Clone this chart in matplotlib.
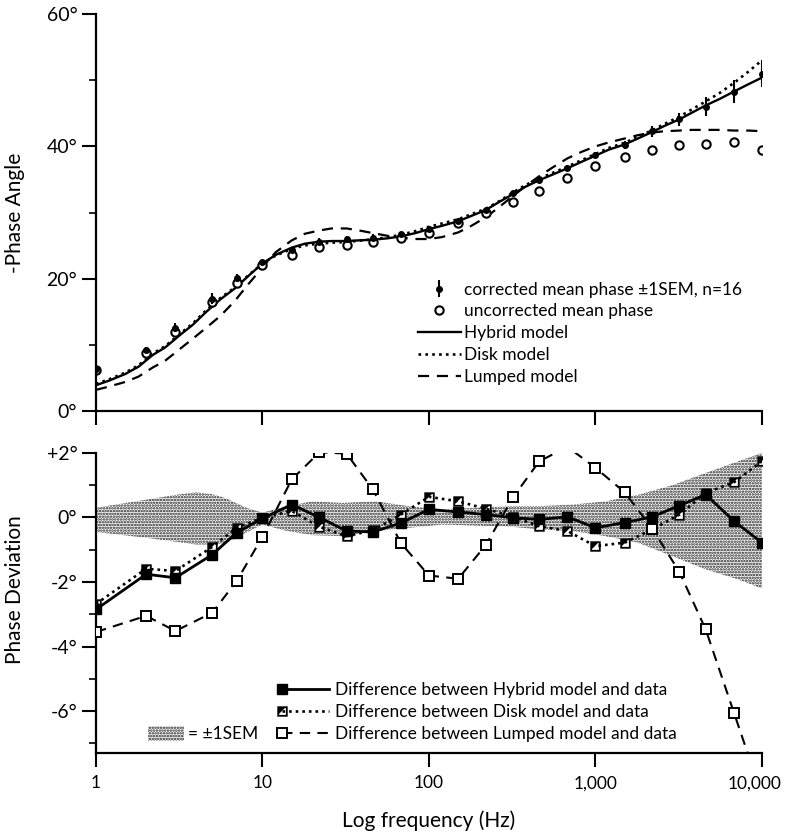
import numpy as np
import matplotlib.pyplot as plt
from matplotlib.lines import Line2D
from matplotlib.patches import Patch
from matplotlib.path import Path
from matplotlib.legend_handler import HandlerLine2D
from matplotlib.ticker import NullLocator, FixedLocator
from matplotlib.transforms import ScaledTranslation

plt.rcParams['font.family'] = ['Lato', 'DejaVu Sans']
plt.rcParams['hatch.linewidth'] = 1.2

# measured frequencies (Hz)
freq = [1, 2, 3, 5, 7, 10, 15, 22, 32, 46, 68, 100, 150, 220, 320, 460, 680,
        1000, 1500, 2200, 3200, 4600, 6800, 10000]
corrected = [6.3, 9.2, 12.6, 17.0, 20.1, 22.6, 24.4, 25.6, 26.0, 26.2, 26.7, 27.5,
             28.8, 30.4, 32.9, 34.9, 36.7, 38.7, 40.2, 42.3, 44.1, 46.0, 48.3, 51.0]
sem = [0.3, 0.5, 0.7, 0.8, 0.6, 0.2, 0.4, 0.5, 0.5, 0.5, 0.35, 0.25, 0.3, 0.3,
       0.35, 0.4, 0.45, 0.5, 0.6, 0.8, 1.0, 1.4, 1.8, 2.0]
uncorrected = [6.2, 8.7, 12.0, 16.5, 19.3, 22.0, 23.6, 24.8, 25.1, 25.5, 26.1, 26.9,
               28.4, 29.9, 31.6, 33.3, 35.2, 37.0, 38.4, 39.5, 40.2, 40.3, 40.7, 39.4]

# model curves
model_freq = [1, 1.2, 1.5, 1.8, 2.2, 2.6, 3.2, 3.8, 4.6, 5.6, 6.8, 8.3, 10, 12, 15,
              18, 22, 26, 32, 38, 46, 56, 68, 83, 100, 120, 150, 180, 220, 260,
              320, 380, 460, 560, 680, 830, 1000, 1200, 1500, 1800, 2200, 2600,
              3200, 3800, 4600, 5600, 6800, 8300, 10000]
hybrid = [3.9, 4.6, 5.6, 6.7, 8.5, 9.6, 11.5, 13.0, 15.0, 16.9, 18.5, 20.5, 22.3,
          23.6, 24.7, 25.3, 25.6, 25.7, 25.7, 25.8, 25.9, 26.1, 26.4, 26.9, 27.5,
          28.0, 28.7, 29.5, 30.4, 31.5, 32.8, 33.9, 34.9, 35.8, 36.7, 37.7, 38.6,
          39.5, 40.3, 41.2, 42.2, 43.1, 44.1, 45.1, 46.2, 47.2, 48.3, 49.4, 50.4]
disk = [4.1, 4.8, 5.8, 6.9, 8.7, 9.8, 11.7, 13.2, 15.25, 17.1, 18.65, 20.6, 22.3,
        23.5, 24.5, 25.05, 25.3, 25.45, 25.55, 25.75, 25.95, 26.25, 26.65, 27.2,
        27.85, 28.35, 29.0, 29.75, 30.6, 31.6, 33.05, 34.15, 35.15, 36.05, 36.95,
        37.95, 38.85, 39.75, 40.55, 41.45, 42.45, 43.4, 44.5, 45.6, 46.8, 48.1,
        49.6, 51.3, 53.0]
lumped = [3.2, 3.7, 4.4, 5.2, 6.6, 7.6, 9.4, 10.9, 12.6, 14.4, 16.6, 19.3, 21.7,
          24.0, 25.8, 26.8, 27.3, 27.6, 27.6, 27.3, 26.9, 26.5, 26.2, 26.0, 26.0,
          26.3, 27.0, 28.0, 29.3, 30.7, 32.5, 34.0, 35.5, 36.9, 38.2, 39.2, 40.0,
          40.6, 41.2, 41.7, 42.1, 42.3, 42.4, 42.5, 42.5, 42.5, 42.4, 42.4, 42.3]

# model minus data
hybrid_diff = [-2.85, -1.76, -1.87, -1.15, -0.47, -0.03, 0.40, 0.0, -0.42, -0.45,
               -0.17, 0.25, 0.17, 0.09, -0.01, -0.06, 0.02, -0.32, -0.16, 0.02,
               0.37, 0.71, -0.11, -0.78]
disk_diff = [-2.68, -1.59, -1.66, -0.91, -0.32, -0.01, 0.2, -0.29, -0.58, -0.4,
             0.09, 0.64, 0.5, 0.27, 0.02, -0.27, -0.42, -0.89, -0.78, -0.37,
             0.09, 0.76, 1.09, 1.74]
lumped_diff = [-3.55, -3.05, -3.52, -2.95, -1.97, -0.6, 1.18, 2.02, 1.98, 0.87,
               -0.8, -1.8, -1.9, -0.85, 0.62, 1.74, 2.19, 1.54, 0.78, -0.35,
               -1.69, -3.47, -6.05, -8.6]

# +-1 SEM band
band_freq = [1, 2, 3, 4, 5, 6, 8, 10, 14, 20, 30, 48, 76, 120, 190, 316, 460,
             730, 1150, 1800, 2900, 4600, 7200, 10000]
band_upper = [0.3, 0.55, 0.7, 0.78, 0.72, 0.6, 0.3, 0.15, 0.35, 0.5, 0.45, 0.5,
              0.35, 0.25, 0.3, 0.35, 0.35, 0.4, 0.5, 0.7, 1.0, 1.38, 1.74, 2.0]
band_lower = [-0.45, -0.63, -0.75, -0.84, -0.84, -0.8, -0.47, -0.22, -0.42, -0.55,
              -0.58, -0.42, -0.32, -0.22, -0.25, -0.29, -0.37, -0.42, -0.58, -0.78,
              -1.2, -1.61, -1.92, -2.2]

xticks = [1, 10, 100, 1000, 10000]
xticklabels = ['1', '10', '100', '1,000', '10,000']


class MarkerLeft(HandlerLine2D):
    # marker at the left end of the legend line
    def create_artists(self, legend, orig_handle, xdescent, ydescent, width,
                       height, fontsize, trans):
        y = (height - ydescent) / 2
        line = Line2D([-xdescent, -xdescent + width], [y, y])
        self.update_prop(line, orig_handle, legend)
        line.set_markevery([0])
        line.set_transform(trans)
        return [line]


# half filled square for the disk model
verts = [(-1, -1), (1, -1), (1, 1), (-1, 1), (-1, -1),
         (-0.65, -0.65), (-0.65, 0.65), (0.65, 0.65), (0.65, -0.65), (-0.65, -0.65),
         (-0.65, 0.65), (-0.65, -0.45), (0.45, 0.65), (-0.65, 0.65)]
codes = [Path.MOVETO, Path.LINETO, Path.LINETO, Path.LINETO, Path.CLOSEPOLY,
         Path.MOVETO, Path.LINETO, Path.LINETO, Path.LINETO, Path.CLOSEPOLY,
         Path.MOVETO, Path.LINETO, Path.LINETO, Path.CLOSEPOLY]
half_sq = Path(verts, codes)

fig = plt.figure(figsize=(7.87, 8.32), dpi=100)
ax1 = fig.add_axes([0.122, 0.506, 0.846, 0.477])
ax2 = fig.add_axes([0.122, 0.095, 0.846, 0.3606])

for ax in (ax1, ax2):
    ax.set_xscale('log')
    ax.set_xlim(1, 10000)
    ax.spines['top'].set_visible(False)
    ax.spines['right'].set_visible(False)
    ax.spines['left'].set_linewidth(1.6)
    ax.spines['bottom'].set_linewidth(1.6)
    ax.xaxis.set_major_locator(FixedLocator(xticks))
    ax.xaxis.set_minor_locator(NullLocator())
    ax.tick_params(which='major', length=10, width=1.5, direction='out', labelsize=14)
    ax.tick_params(which='minor', length=5, width=1.2, direction='out')

# top panel
ax1.plot(model_freq, hybrid, color='black', lw=1.7, ls='-', label='Hybrid model')
ax1.plot(model_freq, disk, color='black', lw=1.9, ls=(0, (1, 1.6)), label='Disk model')
ax1.plot(model_freq, lumped, color='black', lw=1.6, ls=(0, (5, 3.5)), label='Lumped model')
ax1.plot(freq, uncorrected, ls='none', marker='o', ms=6, mfc='white', mec='black',
         mew=1.5, label='uncorrected mean phase')
eb = ax1.errorbar(freq, corrected, yerr=sem, fmt='o', ms=4, color='black',
                  elinewidth=1.5, capsize=0, label='corrected mean phase \u00b11SEM, n=16')
ax1.set_ylim(0, 60)
ax1.set_yticks([0, 20, 40, 60])
ax1.set_yticklabels(['0\u00b0', '20\u00b0', '40\u00b0', '60\u00b0'])
ax1.yaxis.set_minor_locator(FixedLocator([10, 30, 50]))
ax1.set_xticklabels([])
ax1.set_ylabel('-Phase Angle', fontsize=15)
ax1.yaxis.set_label_coords(-0.107, 0.5)

h, l = ax1.get_legend_handles_labels()
order = [4, 3, 0, 1, 2]
ax1.legend([h[i] for i in order], [l[i] for i in order], loc='center left',
           bbox_to_anchor=(0.483, 0.196), frameon=False, fontsize=12.5,
           handlelength=2.5, handletextpad=0.15, labelspacing=0.33,
           borderpad=0, borderaxespad=0, numpoints=1)

# bottom panel
ax2.fill_between(band_freq, band_lower, band_upper, facecolor='none',
                 edgecolor='#1a1a1a', hatch='......', lw=0, zorder=1)
l1, = ax2.plot(freq, hybrid_diff, color='black', lw=2.0, ls='-', marker='s', ms=7,
               mfc='black', mec='black', zorder=4,
               label='Difference between Hybrid model and data')
ax2.plot(freq, disk_diff, ls='none', marker='s', ms=7, mfc='white', mec='none', zorder=2.9)
l2, = ax2.plot(freq, disk_diff, color='black', lw=1.9, ls=(0, (1, 1.5)), marker=half_sq,
               ms=7.5, mfc='black', mec='none', mew=0, zorder=3,
               label='Difference between Disk model and data')
l3, = ax2.plot(freq, lumped_diff, color='black', lw=1.5, ls=(0, (5, 3.5)), marker='s',
               ms=7, mfc='white', mec='black', mew=1.4, zorder=3,
               label='Difference between Lumped model and data')
ax2.set_ylim(-7.3, 2)
ax2.set_yticks([2, 0, -2, -4, -6])
ax2.set_yticklabels(['+2\u00b0', '0\u00b0', '-2\u00b0', '-4\u00b0', '-6\u00b0'])
ax2.yaxis.set_minor_locator(FixedLocator([1, -1, -3, -5, -7]))
ax2.set_xticklabels(xticklabels)
ax2.tick_params(axis='x', pad=6, labelsize=12.5)
# nudge the last label inside the figure edge
last = ax2.get_xticklabels()[-1]
last.set_transform(last.get_transform() + ScaledTranslation(-5 / 72, 0, fig.dpi_scale_trans))
ax2.set_ylabel('Phase Deviation', fontsize=15)
ax2.yaxis.set_label_coords(-0.107, 0.543)
ax2.set_xlabel('Log frequency (Hz)', fontsize=15, labelpad=14)

leg_a = ax2.legend(handles=[l1, l2, l3], loc='center left', bbox_to_anchor=(0.279, 0.137),
                   frameon=False, fontsize=12.5, handlelength=2.7, handletextpad=0.35,
                   labelspacing=0.33, borderpad=0, borderaxespad=0,
                   handler_map={Line2D: MarkerLeft()})
ax2.add_artist(leg_a)
sem_patch = Patch(facecolor='none', edgecolor='#1a1a1a', hatch='......', lw=0,
                  label='= \u00b11SEM')
ax2.legend(handles=[sem_patch], loc='center left', bbox_to_anchor=(0.078, 0.063),
           frameon=False, fontsize=12.5, handlelength=2.1, handleheight=1.0,
           handletextpad=0.2, borderpad=0, borderaxespad=0)

fig.savefig('out.png', dpi=100)
